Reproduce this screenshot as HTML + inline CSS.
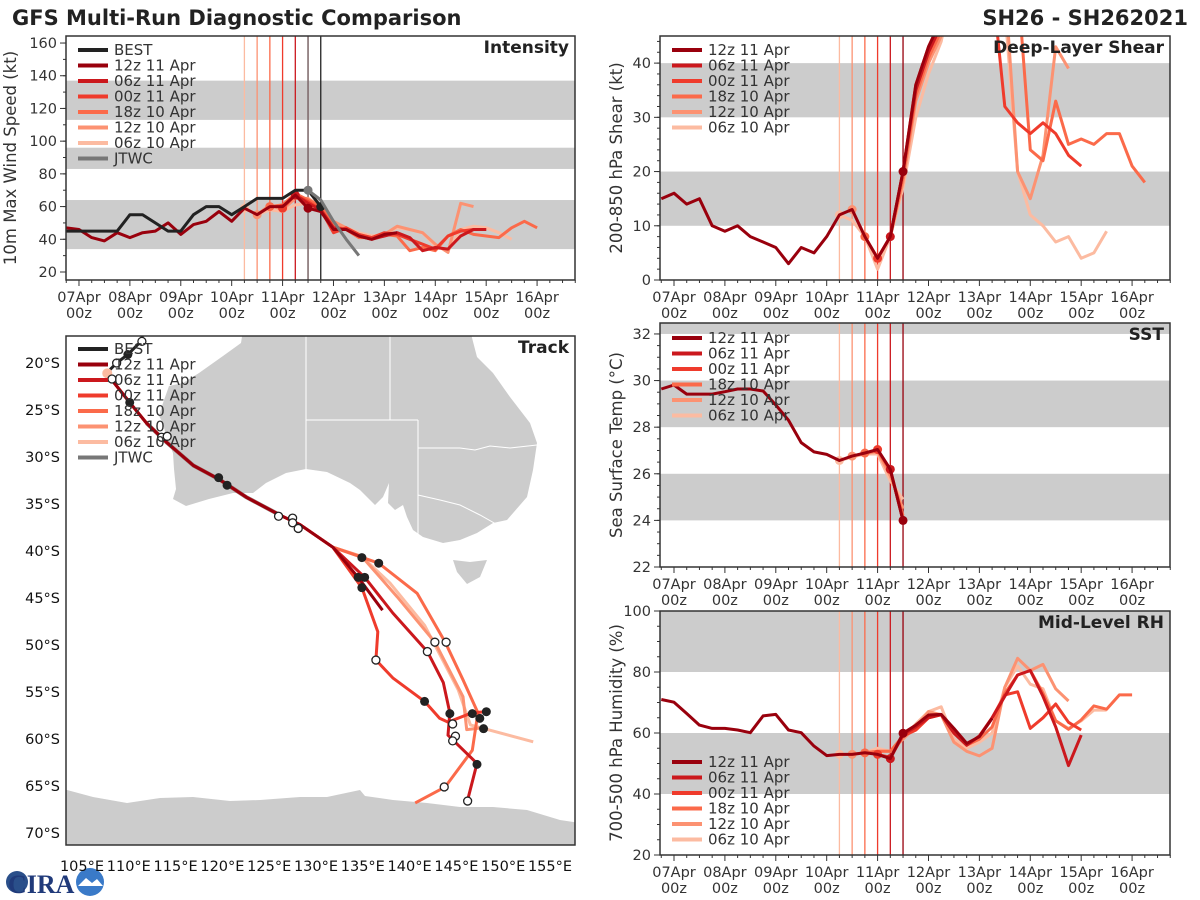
<!DOCTYPE html>
<html><head><meta charset="utf-8">
<style>
html,body{margin:0;padding:0;background:#fff;}
svg{display:block;font-family:"DejaVu Sans","Liberation Sans",sans-serif;}
</style></head>
<body>
<svg id="chart" xmlns="http://www.w3.org/2000/svg" width="1200" height="900" viewBox="0 0 1200 900">
<rect x="0" y="0" width="1200" height="900" fill="#fff"/>
<text x="12" y="25" font-size="21" font-weight="bold" fill="#222">GFS Multi-Run Diagnostic Comparison</text>
<text x="1188" y="25" font-size="21" font-weight="bold" fill="#222" text-anchor="end">SH26 - SH262021</text>
<g>
<circle cx="17" cy="882" r="11" fill="#2a4f8a"/>
<text x="8" y="893" font-size="26" font-weight="bold" fill="#203a7a" font-family="Liberation Serif, serif">CIRA</text>
<circle cx="90" cy="882" r="14" fill="#3a7ac8"/>
<path d="M78 886 L86 878 L92 883 L97 879 L103 886 Z" fill="#fff"/>
</g>
</svg>
<script>
// ---------- DATA ----------
const runNames = ['12z 11 Apr','06z 11 Apr','00z 11 Apr','18z 10 Apr','12z 10 Apr','06z 10 Apr'];
const runColors = ['#99000d','#cb181d','#ef3b2c','#fb6a4a','#fc9272','#fcbba1'];
const runStarts = [4.5,4.25,4.0,3.75,3.5,3.25];
const dayLabels = ['07Apr','08Apr','09Apr','10Apr','11Apr','12Apr','13Apr','14Apr','15Apr','16Apr'];

// intensity (kt), 6-hourly from start day
const intBestStart = -0.25;
const intBest = [45,45,45,45,45,55,55,50,45,45,55,60,60,55,60,65,65,65,70,70,60];
const intJtwcStart = 4.5;
const intJtwc = [70,64,51,40,30];
const int12z11Start = -0.25;
const int12z11 = [47,46,41,39,44,41,44,45,50,43,49,51,57,51,59,55,60,60,67,59,57,46,46,42,40,43,44];
const int06z11 = [67,62,58,47,46,42,40,42,44,41,33,35,34,42,46,46];
const int00z11 = [59,67,63,58,44,47,43,41,44,43,40,37,34,42,45,46,46];
const int18z10 = [60,61,68,64,60,48,46,41,41,43,42,33,35,33,42,46,43,42,41,47,51,47];
const int12z10 = [55,61,58,65,65,60,51,47,43,41,43,48,46,44,37,32,62,60];
const int06z10 = [59,55,58,57,61,62,57,50,47,44,42,43,47,46,44,36,33,46,48,47,44,40];

// shear (kt)
const shr12z11Start = -0.25;
const shr12z11 = [15,16,14,15,10,9,10,8,7,6,3,6,5,8,12,13,8,4,8,20,36,43,48];
const shr06z11 = [8,20,35,42,47,55,60,60];
const shr00z11 = [4,8,20,36,43,48,55,60,60,55,32,29,27,29,27,23,21];
const shr18z10 = [8,4,8,19,34,41,46,55,60,60,60,60,55,24,22,33,25,26,25,27,27,21,18];
const shr12z10 = [13,8,4,8,18,33,40,45,55,60,60,60,55,20,15,23,43,39];
const shr06z10 = [12,11,8,2,8,17,30,38,44,55,60,60,60,50,20,12,10,7,8,4,5,9];

// SST (C)
const sst12z11Start = -0.25;
const sst12z11 = [29.64,29.81,29.42,29.42,29.42,29.52,29.64,29.64,29.55,28.95,28.3,27.34,26.94,26.83,26.57,26.76,26.89,27.04,26.19,24.0];
const sst06z11 = [26.19,24.0];
const sst00z11 = [27.04,26.19,24.0];
const sst18z10 = [26.89,27.0,26.1,24.2];
const sst12z10 = [26.76,26.87,26.95,25.9,24.5];
const sst06z10 = [26.57,26.72,26.85,26.85,25.7,24.9];

// RH (%)
const rh12z11Start = -0.25;
const rh12z11 = [71,70.1,66.4,62.6,61.5,61.5,61,60.1,65.6,66.1,61,60.1,55.7,52.6,53,53,53.5,53,51.6,59.9,62.6,65.9,66.1,61.5,56.6,58.8,64.8];
const rh06z11 = [51.6,59.5,62,65,66,60,56,59,65,72,79,80.5,72,62,49.3,59.3];
const rh00z11 = [53,52,59,61,65,66,60,56,59,65,72.5,73.5,61.5,65,69.5,63.5,61];
const rh18z10 = [53.5,54,54,59,61,65,66,60,56,58,62,73,79,80.5,73,64,61.2,64.3,68.9,67.8,72.5,72.5];
const rh12z10 = [53,53.5,54,54,58,62,67,66,57,54,52.5,55,75,84.5,80.5,82.5,74.5,70.5];
const rh06z10 = [53,53,53.5,55,54,58,63,67,68.6,58,55,57,60,75,82,76,74.5,64,61.5,64,67.5,67.5];

// Track (lon E, lat)
const trkCommonLon = [107.7,108.5,110.1,111.9,114.1,116.9,119.7,122.6,126.2,128.3,131.8];
const trkCommonLat = [-21.1,-22.2,-24.2,-26.4,-28.5,-30.9,-32.4,-34.3,-36.2,-37.2,-39.6];
const trkBestLon = [111.5,111.2,109.9,108.7,108.0];
const trkBestLat = [-17.0,-17.8,-19.1,-20.0,-20.7];
const trkJtwcLon = [111.9,114.1,116.9,119.7,122.6,126.2];
const trkJtwcLat = [-26.4,-28.5,-30.9,-32.4,-34.3,-36.2];
const trk12z11Lon = [134.5,137.1];
const trk12z11Lat = [-42.8,-46.3];
const trk06z11Lon = [135.2,138.2,141.9,143.6,144.3,144.1,147.2,146.2];
const trk06z11Lat = [-42.8,-46.6,-50.7,-54.0,-57.2,-59.6,-62.6,-66.5];
const trk00z11Lon = [134.9,136.6,136.4,138.2,141.6,143.2,144.1,146.7,148.1];
const trk00z11Lat = [-43.9,-48.6,-51.6,-53.5,-56.0,-57.8,-58.2,-57.2,-57.1];
const trk18z10Lon = [136.7,140.8,143.8,145.7,147.3,146.7,143.8,140.6];
const trk18z10Lat = [-41.3,-44.5,-49.7,-53.7,-57.2,-61.2,-65.1,-66.8];
const trk12z10Lon = [134.9,138.7,142.7,145.7,146.1,147.8];
const trk12z10Lat = [-40.6,-44.9,-49.7,-55.5,-59.0,-58.8];
const trk06z10Lon = [134.9,137.9,141.6,145.2,146.5,153.2];
const trk06z10Lat = [-40.6,-43.4,-47.9,-54.8,-58.5,-60.3];
const trkFilledLon = [134.9,136.7,134.5,135.2,134.9,141.6,144.3,146.7,148.2,147.5,147.9,147.2,110.1,109.9,119.6,120.5];
const trkFilledLat = [-40.7,-41.3,-42.8,-42.8,-43.9,-56.0,-57.3,-57.3,-57.1,-57.8,-58.9,-62.7,-24.2,-19.1,-32.2,-33.0];
const trkOpenLon = [111.4,108.7,108.2,113.5,114.1,126.0,127.5,127.5,128.1,142.7,143.9,141.9,136.4,144.6,144.9,144.6,143.7,146.2];
const trkOpenLat = [-17.7,-20.0,-21.7,-27.9,-27.8,-36.3,-36.5,-37.0,-37.6,-49.7,-49.7,-50.7,-51.6,-58.4,-59.7,-60.2,-65.1,-66.6];

// ---------- DRAWING ----------
const NS = 'http://www.w3.org/2000/svg';
const svg = document.getElementById('chart');
function mk(tag, attrs, parent){const e=document.createElementNS(NS,tag);for(const k in attrs)e.setAttribute(k,attrs[k]);(parent||svg).appendChild(e);return e;}

function timePanel(p){
  const g = mk('g',{});
  
  
  const xs = d => p.x0 + (d - p.dmin) / (p.dmax - p.dmin) * (p.x1 - p.x0);
  const ys = v => p.y1 - (v - p.vmin) / (p.vmax - p.vmin) * (p.y1 - p.y0);
  p.xs = xs; p.ys = ys;
  const cp = mk('clipPath',{id:'clip-'+p.name}, g);
  mk('rect',{x:p.x0,y:p.y0,width:p.x1-p.x0,height:p.y1-p.y0}, cp);
  p.bands.forEach(b=>{
    const top = Math.max(ys(b[1]), p.y0), bot = Math.min(ys(b[0]), p.y1);
    const r = mk('rect',{x:p.x0,y:top,width:p.x1-p.x0,height:bot-top,fill:'#cccccc'}, g);
    
    
  });
  for(let v=p.tickMin; v<=p.tickMax+1e-6; v+=p.tickStep){
    const y=ys(v);
    mk('line',{x1:p.x0-6,x2:p.x0,y1:y,y2:y,stroke:'#333','stroke-width':1}, g);
    const t = mk('text',{x:p.x0-9,y:y+5,'font-size':14.5,'text-anchor':'end',fill:'#333'}, g);
    
    
    t.textContent = v;
  }
  for(let v=p.tickMin-p.minor*Math.floor((p.tickMin-p.vmin)/p.minor); v<=p.vmax; v+=p.minor){
    const y=ys(v); if(y<p.y0-0.5||y>p.y1+0.5) continue;
    mk('line',{x1:p.x0-3,x2:p.x0,y1:y,y2:y,stroke:'#333','stroke-width':1}, g);
  }
  for(let d=-0.25; d<=9.75; d+=0.25){
    const x=xs(d); if(x<p.x0-0.5||x>p.x1+0.5) continue;
    const major = Math.abs(d-Math.round(d))<1e-6;
    mk('line',{x1:x,x2:x,y1:p.y1,y2:p.y1+(major?6:3),stroke:'#333','stroke-width':1}, g);
  }
  dayLabels.forEach((lab,i)=>{
    const x=xs(i);
    const t1 = mk('text',{x:x,y:p.y1+22,'font-size':14.5,'text-anchor':'middle',fill:'#333'}, g);
    
    
    t1.textContent = lab;
    const t2 = mk('text',{x:x,y:p.y1+38,'font-size':14.5,'text-anchor':'middle',fill:'#333'}, g);
    
    
    t2.textContent = '00z';
  });
  const yl = mk('text',{x:0,y:0,'font-size':16.5,'text-anchor':'middle',fill:'#333',transform:`translate(${p.ylx},${(p.y0+p.y1)/2}) rotate(-90)`}, g);
  
  
  yl.textContent = p.ylabel;
  p.g = g;
  p.plot = mk('g',{'clip-path':`url(#clip-${p.name})`}, g);
  return p;
}
function initLines(p, extra){
  for(let i=runStarts.length-1;i>=0;i--){
    const x=p.xs(runStarts[i]);
    const l = mk('line',{x1:x,x2:x,y1:p.y0,y2:p.y1,stroke:runColors[i],'stroke-width':1.3}, p.plot);
    
    
  }
  (extra||[]).forEach(e=>{
    const x=p.xs(e[0]);
    const l = mk('line',{x1:x,x2:x,y1:p.y0,y2:p.y1,stroke:e[1],'stroke-width':1.3}, p.plot);
    
    
  });
}
function series(p, start, vals, color, w, nm, dotIdx){
  const pts = vals.map((v,i)=>p.xs(start+i*0.25).toFixed(1)+','+p.ys(v).toFixed(1)).join(' ');
  const pl = mk('polyline',{points:pts,fill:'none',stroke:color,'stroke-width':w,'stroke-linejoin':'round'}, p.plot);
  
  
  if(dotIdx!==undefined){
    const c = mk('circle',{cx:p.xs(start+dotIdx*0.25),cy:p.ys(vals[dotIdx]),r:4.5,fill:color}, p.plot);
    
    
  }
}
function frame(p){
  const r = mk('rect',{x:p.x0,y:p.y0,width:p.x1-p.x0,height:p.y1-p.y0,fill:'none',stroke:'#333','stroke-width':1.5}, p.g);
  
  
}
function title(p, txt){
  const t = mk('text',{x:p.x1-6,y:p.y0+17,'font-size':17,'font-weight':'bold','text-anchor':'end',fill:'#222'}, p.g);
  
  
  t.textContent = txt;
}
function legend(g, x, y, entries, nm){
  entries.forEach((e,i)=>{
    const yy=y+i*15.5;
    const l = mk('line',{x1:x,x2:x+30,y1:yy,y2:yy,stroke:e[1],'stroke-width':4}, g);
    
    
    const t = mk('text',{x:x+36,y:yy+5,'font-size':15,fill:'#333'}, g);
    
    
    t.textContent = e[0];
  });
}
const runEntries = runNames.map((n,i)=>[n,runColors[i]]);

// Intensity
const pI = timePanel({name:'intensity',x0:66,x1:575,y0:36,y1:280,dmin:-0.255,dmax:9.745,vmin:15.1,vmax:164.3,bands:[[34,64],[83,96],[113,137]],tickMin:20,tickMax:160,tickStep:20,minor:10,ylx:16,ylabel:'10m Max Wind Speed (kt)'});
initLines(pI, [[4.5,'#777'],[4.75,'#222']]);
const intOthers=[int06z11,int00z11,int18z10,int12z10,int06z10];
for(let i=5;i>=1;i--) series(pI, runStarts[i], intOthers[i-1], runColors[i], 3, runNames[i].replace(/ /g,'-'), 0);
series(pI, int12z11Start, int12z11, runColors[0], 3, '12z-11-Apr', 19);
series(pI, intBestStart, intBest, '#222', 3, 'best', intBest.length-1);
series(pI, intJtwcStart, intJtwc, '#777', 3, 'jtwc', 0);
frame(pI); title(pI,'Intensity');
legend(pI.g, 78, 50, [['BEST','#222']].concat(runEntries,[['JTWC','#777']]), 'intensity');

// Shear
const pS = timePanel({name:'shear',x0:660,x1:1170,y0:36,y1:280,dmin:-0.275,dmax:9.745,vmin:0,vmax:45,bands:[[10,20],[30,40]],tickMin:0,tickMax:40,tickStep:10,minor:2,ylx:622,ylabel:'200-850 hPa Shear (kt)'});
initLines(pS);
const shrOthers=[shr06z11,shr00z11,shr18z10,shr12z10,shr06z10];
for(let i=5;i>=1;i--) series(pS, runStarts[i], shrOthers[i-1], runColors[i], 3, runNames[i].replace(/ /g,'-'), 0);
series(pS, shr12z11Start, shr12z11, runColors[0], 3, '12z-11-Apr', 19);
frame(pS); title(pS,'Deep-Layer Shear');
legend(pS.g, 672, 50, runEntries, 'shear');

// SST
const pT = timePanel({name:'sst',x0:660,x1:1170,y0:323,y1:567,dmin:-0.275,dmax:9.745,vmin:22,vmax:32.47,bands:[[24,26],[28,30],[32,33]],tickMin:22,tickMax:32,tickStep:2,minor:0.5,ylx:622,ylabel:'Sea Surface Temp (°C)'});
initLines(pT);
const sstOthers=[sst06z11,sst00z11,sst18z10,sst12z10,sst06z10];
for(let i=5;i>=1;i--) series(pT, runStarts[i], sstOthers[i-1], runColors[i], 3, runNames[i].replace(/ /g,'-'), 0);
series(pT, sst12z11Start, sst12z11, runColors[0], 3, '12z-11-Apr', 19);
frame(pT); title(pT,'SST');
legend(pT.g, 672, 338, runEntries, 'sst');

// RH
const pR = timePanel({name:'rh',x0:660,x1:1170,y0:611,y1:855,dmin:-0.275,dmax:9.745,vmin:20,vmax:100,bands:[[40,60],[80,100]],tickMin:20,tickMax:100,tickStep:20,minor:5,ylx:622,ylabel:'700-500 hPa Humidity (%)'});
initLines(pR);
const rhOthers=[rh06z11,rh00z11,rh18z10,rh12z10,rh06z10];
for(let i=5;i>=1;i--) series(pR, runStarts[i], rhOthers[i-1], runColors[i], 3, runNames[i].replace(/ /g,'-'), 0);
series(pR, rh12z11Start, rh12z11, runColors[0], 3, '12z-11-Apr', 19);
frame(pR); title(pR,'Mid-Level RH');
legend(pR.g, 672, 762, runEntries, 'rh');

// Track map
const M = {name:'track',x0:66,x1:575,y0:336,y1:845};
const lx = lon => 82 + (lon-105)*9.36;
const ly = lat => 363 + (-lat-20)*9.4;
const gT = mk('g',{});


M.g = gT;
const cpT = mk('clipPath',{id:'clip-track'}, gT);
mk('rect',{x:M.x0,y:M.y0,width:M.x1-M.x0,height:M.y1-M.y0}, cpT);
const mp = mk('g',{'clip-path':'url(#clip-track)'}, gT);
const aus = mk('polygon',{fill:'#cccccc',points:'243,330 241,343 223,356 199,373 183,383 169,386 163,403 159,416 163,423 166,436 173,453 174,469 176,489 173,499 186,506 209,499 233,493 253,493 266,483 286,473 306,469 327,472 350,483 360,490 375,505 383,497 389,483 388,503 395,510 403,505 407,517 413,530 423,537 443,543 460,540 477,533 493,523 507,520 527,497 533,470 537,443 530,423 520,410 510,397 493,373 477,357 470,330'}, mp);


const tas = mk('polygon',{fill:'#cccccc',points:'453,560 470,562 487,560 480,577 467,584 457,572'}, mp);


const ant = mk('polygon',{fill:'#cccccc',points:'60,790 67,790 93,797 127,803 160,798 193,797 230,801 260,800 300,797 327,797 360,790 365,796 393,800 427,803 460,807 493,807 527,810 560,820 580,823 580,850 60,850'}, mp);


const borders = mk('path',{d:'M306,336 L306,470 M390,336 L390,420 M306,420 L418,420 M418,420 L418,534 M418,448 L460,448 L475,450 L490,446 L510,448 L537,445 M418,495 L440,500 L460,505 L480,515 L503,528',stroke:'#fff','stroke-width':1,fill:'none'}, mp);


function track(lons, lats, color, nm, w){
  const pts = lons.map((lo,i)=>lx(lo).toFixed(1)+','+ly(lats[i]).toFixed(1)).join(' ');
  const pl = mk('polyline',{points:pts,fill:'none',stroke:color,'stroke-width':w||3,'stroke-linejoin':'round'}, mp);
  
  
}
track(trkJtwcLon, trkJtwcLat, '#777', 'jtwc', 4);
const trkRunsLon=[trk12z11Lon,trk06z11Lon,trk00z11Lon,trk18z10Lon,trk12z10Lon,trk06z10Lon];
const trkRunsLat=[trk12z11Lat,trk06z11Lat,trk00z11Lat,trk18z10Lat,trk12z10Lat,trk06z10Lat];
for(let i=5;i>=0;i--){
  track(trkCommonLon.concat(trkRunsLon[i]), trkCommonLat.concat(trkRunsLat[i]), runColors[i], runNames[i].replace(/ /g,'-'));
}
track(trkBestLon, trkBestLat, '#222', 'best');
const s0 = mk('circle',{cx:lx(trkCommonLon[0]),cy:ly(trkCommonLat[0]),r:5,fill:runColors[5]}, mp);


trkFilledLon.forEach((lo,i)=>{
  const c = mk('circle',{cx:lx(lo),cy:ly(trkFilledLat[i]),r:4.5,fill:'#222'}, mp);
  
  
});
trkOpenLon.forEach((lo,i)=>{
  const c = mk('circle',{cx:lx(lo),cy:ly(trkOpenLat[i]),r:4,fill:'#fff',stroke:'#222','stroke-width':1.3}, mp);
  
  
});
for(let lon=105; lon<=155; lon+=5){
  const t = mk('text',{x:lx(lon),y:871,'font-size':14.5,'text-anchor':'middle',fill:'#111'}, gT);
  
  
  t.textContent = lon + '°E';
}
for(let lat=20; lat<=70; lat+=5){
  const t = mk('text',{x:60,y:ly(-lat)+5,'font-size':14.5,'text-anchor':'end',fill:'#111'}, gT);
  
  
  t.textContent = lat + '°S';
}
frame(M);
title(M,'Track');
legend(gT, 78, 349, [['BEST','#222']].concat(runEntries,[['JTWC','#777']]), 'track');
</script>
</body></html>
